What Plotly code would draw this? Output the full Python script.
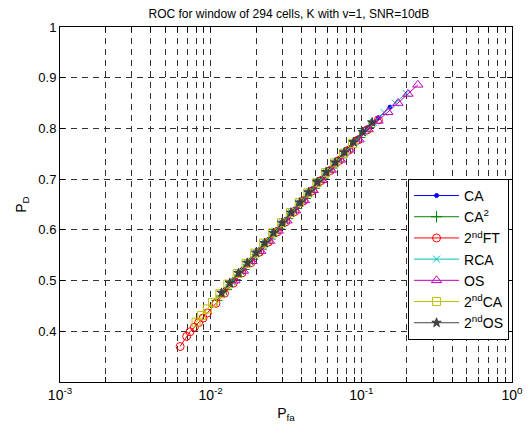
import plotly.graph_objects as go

# ROC curves, window of 294 cells, K with v=1, SNR=10dB
pfa_ca = [0.0125, 0.0142, 0.0162, 0.0185, 0.0211, 0.0241, 0.0276, 0.0316, 0.0361, 0.0413,
          0.0473, 0.0541, 0.0622, 0.0716, 0.0824, 0.0948, 0.1091, 0.1297, 0.1549]
pd_ca = [0.483, 0.502, 0.522, 0.541, 0.561, 0.581, 0.601, 0.621, 0.641, 0.661,
         0.681, 0.701, 0.721, 0.741, 0.761, 0.781, 0.801, 0.821, 0.842]

pfa_ca2 = [0.0110, 0.0127, 0.0145, 0.0166, 0.0190, 0.0217, 0.0248, 0.0284, 0.0325, 0.0372,
           0.0425, 0.0487, 0.0557, 0.0640, 0.0737, 0.0848, 0.0976, 0.1125]
pd_ca2 = [0.461, 0.482, 0.502, 0.522, 0.542, 0.562, 0.582, 0.602, 0.622, 0.642,
          0.662, 0.682, 0.702, 0.722, 0.742, 0.762, 0.782, 0.802]

pfa_ft = [0.00627, 0.00693, 0.00729, 0.00780, 0.00832, 0.00890, 0.00951, 0.01084, 0.01236,
          0.01413, 0.01614, 0.01845, 0.02109, 0.02415, 0.02761, 0.03155, 0.03614, 0.04130,
          0.04732, 0.05408, 0.06223, 0.07161, 0.08241, 0.09484, 0.1091, 0.1297]
pd_ft = [0.370, 0.390, 0.399, 0.408, 0.417, 0.426, 0.436, 0.455, 0.475,
         0.495, 0.515, 0.535, 0.556, 0.576, 0.596, 0.616, 0.636, 0.657,
         0.677, 0.697, 0.717, 0.737, 0.757, 0.777, 0.797, 0.817]

pfa_rca = [0.0135, 0.0154, 0.0176, 0.0201, 0.0230, 0.0263, 0.0301, 0.0344, 0.0393, 0.0450,
           0.0515, 0.0590, 0.0680, 0.0782, 0.0900, 0.1036, 0.1200, 0.1420, 0.1680, 0.1980]
pd_rca = [0.494, 0.514, 0.534, 0.554, 0.574, 0.594, 0.614, 0.634, 0.653, 0.673,
          0.693, 0.713, 0.733, 0.753, 0.773, 0.793, 0.812, 0.831, 0.850, 0.869]

pfa_os = [0.0145, 0.0165, 0.0188, 0.0215, 0.0246, 0.0281, 0.0321, 0.0367, 0.0420, 0.0480,
          0.0550, 0.0632, 0.0728, 0.0838, 0.0965, 0.1110, 0.1290, 0.1500, 0.1750, 0.2040, 0.2370]
pd_os = [0.500, 0.519, 0.538, 0.558, 0.578, 0.598, 0.618, 0.638, 0.658, 0.678,
         0.698, 0.718, 0.738, 0.758, 0.778, 0.798, 0.815, 0.832, 0.850, 0.868, 0.886]

pfa_2ca = [0.00800, 0.00870, 0.00951, 0.01030, 0.01150, 0.01300, 0.01500, 0.01720, 0.01960,
           0.02250, 0.02580, 0.02950, 0.03380, 0.03870, 0.04420, 0.05060, 0.05800, 0.06650,
           0.07620, 0.08750]
pd_2ca = [0.418, 0.431, 0.444, 0.457, 0.474, 0.493, 0.514, 0.534, 0.554,
          0.574, 0.594, 0.614, 0.634, 0.654, 0.673, 0.693, 0.713, 0.732,
          0.751, 0.770]

pfa_2os = [0.0118, 0.0134, 0.0153, 0.0175, 0.0200, 0.0228, 0.0261, 0.0298, 0.0341, 0.0390,
           0.0446, 0.0510, 0.0584, 0.0670, 0.0770, 0.0886, 0.1020, 0.1180]
pd_2os = [0.476, 0.495, 0.515, 0.535, 0.555, 0.574, 0.594, 0.614, 0.634, 0.654,
          0.674, 0.694, 0.714, 0.733, 0.753, 0.773, 0.793, 0.812]

x_ticks = [1e-3, 1e-2, 1e-1, 1]
x_labels = ['10<sup>-3</sup>', '10<sup>-2</sup>', '10<sup>-1</sup>', '10<sup>0</sup>']
x_minor = [k * 10.0 ** e for e in (-3, -2, -1) for k in range(2, 10)]
y_ticks = [0.4, 0.5, 0.6, 0.7, 0.8, 0.9, 1]
y_labels = ['0.4', '0.5', '0.6', '0.7', '0.8', '0.9', '1']

series = [
    ('CA', pfa_ca, pd_ca, '#0000ff', 'circle', 4),
    ('CA<sup>2</sup>', pfa_ca2, pd_ca2, '#008000', 'cross-thin', 8),
    ('2<sup>nd</sup>FT', pfa_ft, pd_ft, '#ff0000', 'circle-open', 8),
    ('RCA', pfa_rca, pd_rca, '#00bfbf', 'x-thin', 7),
    ('OS', pfa_os, pd_os, '#bf00bf', 'triangle-up-open', 9),
    ('2<sup>nd</sup>CA', pfa_2ca, pd_2ca, '#bfbf00', 'square-open', 8),
    ('2<sup>nd</sup>OS', pfa_2os, pd_2os, '#404040', 'star', 7),
]

fig = go.Figure()
for name, xs, ys, col, sym, sz in series:
    fig.add_trace(go.Scatter(x=xs, y=ys, name=name, mode='lines+markers',
                             line=dict(color=col, width=1),
                             marker=dict(symbol=sym, size=sz, color=col,
                                         line=dict(color=col, width=1))))

grid_col = '#303030'
# page has an 8px body margin, so the margins are shifted to compensate
fig.update_layout(
    width=531, height=434,
    margin=dict(l=52, r=27, t=19, b=60),
    paper_bgcolor='white', plot_bgcolor='white',
    font=dict(family='Liberation Sans, Arial, sans-serif', size=12, color='black'),
    title=dict(text='ROC for window of 294 cells, K with v=1, SNR=10dB',
               x=0.529, xanchor='center', yref='container', y=1, yanchor='top',
               pad=dict(t=2), font=dict(size=12)),
    showlegend=True,
    legend=dict(x=0.77, y=0.572, xanchor='left', yanchor='top',
                bordercolor='black', borderwidth=1, bgcolor='white',
                font=dict(size=14), tracegroupgap=0, itemwidth=45),
)
fig.update_xaxes(type='log', range=[-3, 0], tickmode='array', tickvals=x_ticks,
                 ticktext=x_labels, ticks='inside', ticklen=5, tickcolor='black',
                 showline=True, linecolor='black', linewidth=1, mirror='ticks',
                 showgrid=True, gridcolor=grid_col, griddash='6px,5px', gridwidth=1,
                 zeroline=False,
                 minor=dict(tickmode='array', tickvals=x_minor, ticks='inside', ticklen=5,
                            tickcolor='black', showgrid=True, gridcolor=grid_col,
                            griddash='6px,5px', gridwidth=1),
                 title=dict(text='P<sub>fa</sub>', standoff=6, font=dict(size=14)),
                 tickfont=dict(size=14))
fig.update_yaxes(range=[0.3, 1], tickmode='array', tickvals=y_ticks, ticktext=y_labels,
                 ticks='inside', ticklen=5, tickcolor='black',
                 showline=True, linecolor='black', linewidth=1, mirror='ticks',
                 showgrid=True, gridcolor=grid_col, griddash='6px,5px', gridwidth=1,
                 zeroline=False,
                 title=dict(text='P<sub>D</sub>', standoff=8, font=dict(size=14)),
                 tickfont=dict(size=13))

fig.write_html('out.html')
